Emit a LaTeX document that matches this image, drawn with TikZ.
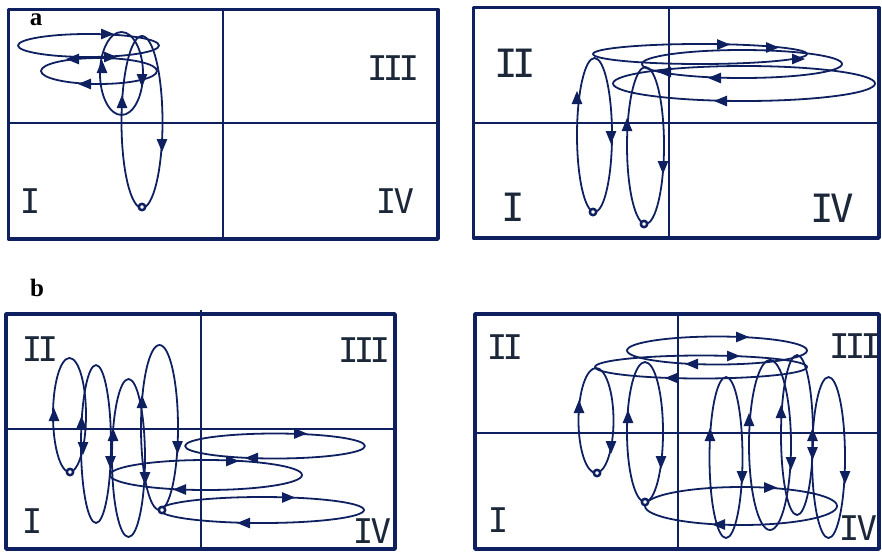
\documentclass[tikz,border=0pt]{standalone}
\usepackage{fontspec}
\newfontfamily\qfont{DejaVu Sans Mono}
\newfontfamily\lfont{Liberation Serif}
\definecolor{navy}{RGB}{14,32,96}
\definecolor{txt}{RGB}{28,40,58}
\newcommand\ah[3]{\fill[navy, shift={(#1,#2)}, rotate=#3] (7,0) -- (-6,5.4) -- (-6,-5.4) -- cycle;}
\newcommand\ring[2]{\draw[navy, line width=2.5pt, fill=white] (#1,#2) circle (3.2);}
\newcommand\qIII{I\kern-.14em I\kern-.14em I}
\newcommand\qII{I\kern-.14em I}
\newcommand\qIV{I\kern-.08em V}
\begin{document}
\begin{tikzpicture}[x=1pt,y=-1pt, line join=round,
  frame/.style={draw=navy, line width=3.5pt},
  grid/.style={draw=navy, line width=1.4pt},
  trj/.style={draw=navy, line width=1.8pt},
  quad/.style={text=txt, font=\qfont\fontsize{34}{34}\selectfont, inner sep=0pt},
  quadL/.style={text=txt, font=\qfont\fontsize{39}{39}\selectfont, inner sep=0pt},
  plab/.style={font=\lfont\bfseries\fontsize{25}{25}\selectfont, inner sep=0pt}]
\useasboundingbox (0,0) rectangle (882,552);

% ---------------- panel a, left ----------------
\draw[frame] (8.5,9.5) rectangle (438,239);
\draw[grid] (223,9.5) -- (223,239);
\draw[grid] (8.5,123) -- (438,123);
\node[plab] (la) at (36,20) {a};
\node[quad] (a1III) at (393,68) {\qIII};
\node[quad] (a1I) at (30,201) {I};
\node[quad] (a1IV) at (395,201) {\qIV};
\draw[trj] (88.5,45.5) ellipse [x radius=70.5, y radius=11.5];
\draw[trj] (99,71) ellipse [x radius=58, y radius=13];
\draw[trj] (121.5,73.5) ellipse [x radius=21.5, y radius=41.5];
\draw[trj] (142,122) ellipse [x radius=20.5, y radius=86];
\ah{107}{34}{0}
\ah{110}{57}{0}
\ah{73}{59}{180}
\ah{85}{84}{180}
\ah{102}{67}{90}
\ah{122}{102}{90}
\ah{142}{80}{-90}
\ah{162}{145}{-90}
\ring{142}{207}

% ---------------- panel a, right ----------------
\draw[frame] (473.5,7.5) rectangle (879,238);
\draw[grid] (669,7.5) -- (669,238);
\draw[grid] (473.5,123) -- (879,123);
\node[quadL] (a2II) at (515,63) {\qII};
\node[quadL] (a2I) at (513,207) {I};
\node[quadL] (a2IV) at (832,208) {\qIV};
\draw[trj] (700,54) ellipse [x radius=107, y radius=10];
\draw[trj] (742,64) ellipse [x radius=100, y radius=14];
\draw[trj] (744,83.5) ellipse [x radius=131, y radius=17.5];
\draw[trj] (594.5,135) ellipse [x radius=17.5, y radius=77];
\draw[trj] (645.5,145.5) ellipse [x radius=18.5, y radius=78.5];
\ah{723}{44.5}{0}
\ah{772}{47.5}{0}
\ah{798}{59}{0}
\ah{665}{72}{180}
\ah{715}{78}{180}
\ah{721}{101}{180}
\ah{577}{98}{90}
\ah{611}{137}{-90}
\ah{627}{125}{90}
\ah{663}{167}{-90}
\ring{593}{212}
\ring{644}{224}

% ---------------- panel b, left ----------------
\node[plab] (lb) at (37,288) {b};
\draw[frame] (6,314) rectangle (395,549);
\draw[grid] (201,310) -- (201,549);
\draw[grid] (6,429) -- (395,429);
\node[quad] (b1II) at (40,349) {\qII};
\node[quad] (b1III) at (364,350) {\qIII};
\node[quad] (b1I) at (32,521) {I};
\node[quad] (b1IV) at (372,531) {\qIV};
\draw[trj] (69.5,415) ellipse [x radius=16.5, y radius=57];
\draw[trj] (96,444) ellipse [x radius=15, y radius=79];
\draw[trj] (128.5,458) ellipse [x radius=16.5, y radius=79];
\draw[trj] (159.5,427.5) ellipse [x radius=18.5, y radius=82.5];
\draw[trj] (275,446) ellipse [x radius=90, y radius=12.5];
\draw[trj] (206,475) ellipse [x radius=96, y radius=15];
\draw[trj] (262,510) ellipse [x radius=102, y radius=13];
\ah{54}{415}{90}
\ah{81.5}{423}{90}
\ah{83}{448}{-90}
\ah{113}{435}{90}
\ah{110.5}{462}{-90}
\ah{142}{402}{90}
\ah{145}{478}{-90}
\ah{177.5}{447}{-90}
\ah{300}{433.5}{0}
\ah{252}{458}{180}
\ah{232}{461}{0}
\ah{180}{489.5}{180}
\ah{288}{497.5}{0}
\ah{244}{523}{180}
\ring{70}{472}
\ring{162}{510}

% ---------------- panel b, right ----------------
\draw[frame] (475,314) rectangle (879,549);
\draw[grid] (678,314) -- (678,549);
\draw[grid] (475,433) -- (879,433);
\node[quad] (b2II) at (505,347) {\qII};
\node[quad] (b2III) at (855,346) {\qIII};
\node[quad] (b2I) at (498,520) {I};
\node[quad] (b2IV) at (858,528) {\qIV};
\draw[trj] (717,350.5) ellipse [x radius=90, y radius=14];
\draw[trj] (701,367) ellipse [x radius=106, y radius=11.5];
\draw[trj] (741,506) ellipse [x radius=96, y radius=19];
\draw[trj] (596,420.5) ellipse [x radius=17.5, y radius=52.5];
\draw[trj] (645,432) ellipse [x radius=18, y radius=70];
\draw[trj] (726,457.5) ellipse [x radius=16.5, y radius=80.5];
\draw[trj] (770,445) ellipse [x radius=21, y radius=85];
\draw[trj] (797,435) ellipse [x radius=16, y radius=80];
\draw[trj] (828.5,457.5) ellipse [x radius=16.5, y radius=80.5];
\ah{742}{337}{0}
\ah{733}{356}{0}
\ah{692}{364}{180}
\ah{672}{378}{180}
\ah{770}{487.5}{0}
\ah{719}{524.5}{180}
\ah{579}{407}{90}
\ah{611}{447}{-90}
\ah{628}{417}{90}
\ah{661}{462}{-90}
\ah{710}{435}{90}
\ah{742}{477}{-90}
\ah{749}{420}{90}
\ah{791}{463}{-90}
\ah{781}{412}{90}
\ah{812.5}{435}{90}
\ah{812.5}{453}{-90}
\ah{845}{477}{-90}
\ring{597}{473}
\ring{645}{502}
\end{tikzpicture}
\end{document}
